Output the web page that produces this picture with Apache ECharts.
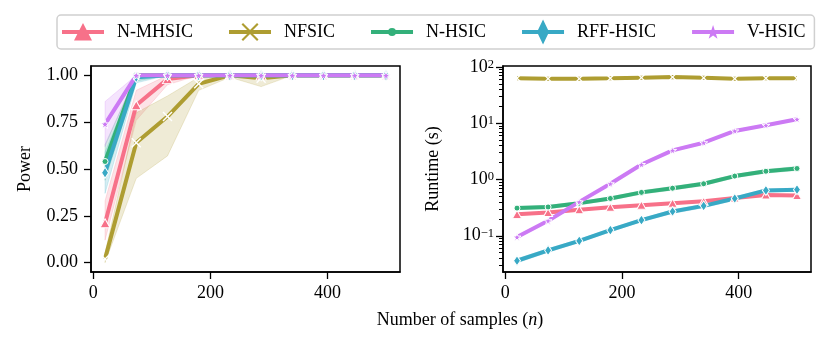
<!DOCTYPE html>
<html><head><meta charset="utf-8">
<script src="https://cdn.jsdelivr.net/npm/echarts@6/dist/echarts.min.js"></script>
<style>html,body{margin:0;padding:0;background:#fff}#c{width:830px;height:345px}</style>
</head><body><div id="c"></div>
<script>
// ---------- data ----------
const methods = ['N-MHSIC', 'NFSIC', 'N-HSIC', 'RFF-HSIC', 'V-HSIC'];
const colors = ['#f77189', '#ae9d31', '#33b07a', '#38a9c5', '#cc7af4'];
const nSamples = [20, 73.3, 126.7, 180, 233.3, 286.7, 340, 393.3, 446.7, 500];

const xTicks = [0, 200, 400];
const powerTicks = [0, 0.25, 0.5, 0.75, 1.0];
const runtimeDecades = [-1, 0, 1, 2];

// Power (left panel)
const powerNMHSIC = [0.21, 0.84, 0.98, 1, 1, 1, 1, 1, 1, 1];
const powerNFSIC  = [0.02, 0.64, 0.78, 0.955, 1, 0.985, 1, 1, 1, 1];
const powerNHSIC  = [0.54, 1, 1, 1, 1, 1, 1, 1, 1, 1];
const powerRFF    = [0.48, 0.99, 1, 1, 1, 1, 1, 1, 1, 1];
const powerVHSIC  = [0.74, 1, 1, 1, 1, 1, 1, 1, 1, 1];
// Power confidence bands
const powerLoNMHSIC = [0.12, 0.76, 0.95, 1, 1, 1, 1, 1, 1, 1];
const powerHiNMHSIC = [0.33, 0.92, 1, 1, 1, 1, 1, 1, 1, 1];
const powerLoNFSIC  = [0.0, 0.45, 0.57, 0.92, 0.99, 0.94, 1, 1, 1, 1];
const powerHiNFSIC  = [0.05, 0.80, 0.89, 0.99, 1, 1, 1, 1, 1, 1];
const powerLoNHSIC  = [0.44, 0.97, 1, 1, 1, 1, 1, 1, 1, 1];
const powerHiNHSIC  = [0.63, 1, 1, 1, 1, 1, 1, 1, 1, 1];
const powerLoRFF    = [0.37, 0.96, 1, 1, 1, 1, 1, 1, 1, 1];
const powerHiRFF    = [0.59, 1, 1, 1, 1, 1, 1, 1, 1, 1];
const powerLoVHSIC  = [0.62, 1, 1, 1, 1, 1, 1, 1, 1, 1];
const powerHiVHSIC  = [0.86, 1, 1, 1, 1, 1, 1, 1, 1, 1];

// Runtime in seconds (right panel)
const timeNMHSIC = [0.24, 0.26, 0.29, 0.32, 0.35, 0.38, 0.41, 0.47, 0.53, 0.52];
const timeNFSIC  = [63, 62, 62, 63, 64.5, 66, 64, 62, 63, 63];
const timeNHSIC  = [0.31, 0.325, 0.38, 0.46, 0.59, 0.70, 0.84, 1.15, 1.40, 1.57];
const timeRFF    = [0.036, 0.055, 0.081, 0.126, 0.19, 0.27, 0.34, 0.46, 0.64, 0.66];
const timeVHSIC  = [0.095, 0.185, 0.40, 0.84, 1.85, 3.3, 4.5, 7.3, 9.2, 11.8];
// Runtime confidence bands
const timeLoNMHSIC = [0.23, 0.25, 0.28, 0.31, 0.34, 0.37, 0.40, 0.45, 0.51, 0.50];
const timeHiNMHSIC = [0.25, 0.27, 0.30, 0.33, 0.36, 0.39, 0.42, 0.49, 0.55, 0.54];
const timeLoNFSIC  = [61, 60, 60, 61, 62.5, 64, 62, 60, 61, 61];
const timeHiNFSIC  = [65, 64, 64, 65, 66.5, 68, 66, 64, 65, 65];
const timeLoNHSIC  = [0.29, 0.305, 0.355, 0.43, 0.55, 0.65, 0.78, 1.07, 1.30, 1.45];
const timeHiNHSIC  = [0.33, 0.345, 0.405, 0.49, 0.63, 0.75, 0.90, 1.23, 1.50, 1.70];
const timeLoRFF    = [0.033, 0.051, 0.076, 0.118, 0.178, 0.25, 0.315, 0.43, 0.60, 0.62];
const timeHiRFF    = [0.039, 0.059, 0.086, 0.134, 0.202, 0.29, 0.365, 0.49, 0.68, 0.70];
const timeLoVHSIC  = [0.09, 0.175, 0.38, 0.80, 1.76, 3.15, 4.3, 7.0, 8.8, 11.3];
const timeHiVHSIC  = [0.10, 0.195, 0.42, 0.88, 1.94, 3.45, 4.7, 7.6, 9.6, 12.3];

const powerSets = [
  [powerNMHSIC, powerLoNMHSIC, powerHiNMHSIC],
  [powerNFSIC, powerLoNFSIC, powerHiNFSIC],
  [powerNHSIC, powerLoNHSIC, powerHiNHSIC],
  [powerRFF, powerLoRFF, powerHiRFF],
  [powerVHSIC, powerLoVHSIC, powerHiVHSIC]
];
const timeSets = [
  [timeNMHSIC, timeLoNMHSIC, timeHiNMHSIC],
  [timeNFSIC, timeLoNFSIC, timeHiNFSIC],
  [timeNHSIC, timeLoNHSIC, timeHiNHSIC],
  [timeRFF, timeLoRFF, timeHiRFF],
  [timeVHSIC, timeLoVHSIC, timeHiVHSIC]
];

// ---------- styling ----------
const F = "'Liberation Serif', 'Times New Roman', serif";
const xPath = 'path://M0,1 L1,0 L5,4 L9,0 L10,1 L6,5 L10,9 L9,10 L5,6 L1,10 L0,9 L4,5 Z';
const starPath = 'path://M50,0 L61,35 L98,35 L68,57 L79,91 L50,70 L21,91 L32,57 L2,35 L39,35 Z';
const symbols = ['triangle', xPath, 'circle', 'diamond', starPath];
const symSizesL = [[10, 9], 10, 6, [7, 11], 9];
const symSizesR = [[9, 8], 9, 6, [7, 10], 8];

// legend icons (line + marker), all with common bbox 0..42 x 0..26
const corner = 'M0,0 L0.1,0 L0,0.1 Z M42,26 L41.9,26 L42,25.9 Z ';
const bar = 'M0,11 L42,11 L42,15 L0,15 Z ';
const legendIcons = [
  'path://' + corner + bar + 'M21,4 L30,21.5 L12,21.5 Z',
  'path://' + corner + bar + 'M12.5,5.5 L14,4 L21,11 L28,4 L29.5,5.5 L22.5,12.5 L22.5,13.5 L29.5,20.5 L28,22 L21,15 L14,22 L12.5,20.5 L19.5,13.5 L19.5,12.5 Z',
  'path://' + corner + bar + 'M17,13 A4,4 0 1 1 25,13 A4,4 0 1 1 17,13 Z',
  'path://' + corner + bar + 'M21,0.5 L27,13 L21,25.5 L15,13 Z',
  'path://' + corner + bar + 'M21,6 L22.7,11.2 L28.2,11.2 L23.8,14.5 L25.4,19.7 L21,16.5 L16.6,19.7 L18.2,14.5 L13.8,11.2 L19.3,11.2 Z'
];

function rgba(hex, a) {
  const r = parseInt(hex.slice(1, 3), 16), g = parseInt(hex.slice(3, 5), 16), b = parseInt(hex.slice(5, 7), 16);
  return 'rgba(' + r + ',' + g + ',' + b + ',' + a + ')';
}

function bandSeries(xi, yi, lo, hi, color, alpha) {
  return {
    type: 'custom', xAxisIndex: xi, yAxisIndex: yi, silent: true, clip: true, z: 1,
    data: [[nSamples[0], hi[0]]],
    renderItem: function (params, api) {
      const pts = [];
      for (let i = 0; i < nSamples.length; i++) pts.push(api.coord([nSamples[i], hi[i]]));
      for (let i = nSamples.length - 1; i >= 0; i--) pts.push(api.coord([nSamples[i], lo[i]]));
      return { type: 'polygon', shape: { points: pts },
        style: { fill: rgba(color, alpha), stroke: rgba(color, alpha), lineWidth: 1 } };
    }
  };
}

function lineSeries(name, k, xi, yi, values, sizes) {
  const c = colors[k];
  const isX = k === 1;
  return {
    name: name, type: 'line', xAxisIndex: xi, yAxisIndex: yi, z: 3,
    data: nSamples.map((x, i) => [x, values[i]]),
    symbol: symbols[k], symbolSize: sizes[k], showSymbol: true, showAllSymbol: true,
    lineStyle: { color: c, width: 4 },
    itemStyle: isX ? { color: '#ffffff', borderWidth: 0 } : { color: c, borderColor: '#ffffff', borderWidth: 1 },
    emphasis: { disabled: true }, silent: true, clip: true
  };
}

const series = [];
// bands first (behind lines)
for (let k = 0; k < 5; k++) series.push(bandSeries(0, 0, powerSets[k][1], powerSets[k][2], colors[k], 0.2));
for (let k = 0; k < 5; k++) series.push(bandSeries(1, 1, timeSets[k][1], timeSets[k][2], colors[k], 0.2));
for (let k = 0; k < 5; k++) series.push(lineSeries(methods[k], k, 0, 0, powerSets[k][0], symSizesL));
// runtime lines use the log axis (yAxisIndex 1)
for (let k = 0; k < 5; k++) series.push(lineSeries(methods[k], k, 1, 1, timeSets[k][0], symSizesR));

const tMin = 0.0227, tMax = 104;
const minorTicks = [];
for (let e = -2; e <= 1; e++) for (let m = 2; m <= 9; m++) {
  const v = m * Math.pow(10, e);
  if (v > tMin && v < tMax) minorTicks.push(Math.log10(v));
}

const tickStyle = { color: '#000', width: 1.3 };
const labelBase = { fontFamily: F, fontSize: 18, color: '#000' };

function xAxisDef(g) {
  return {
    gridIndex: g, type: 'value', min: -4, max: 524,
    axisLine: { show: true, onZero: false, lineStyle: { color: '#000', width: 1.5 } },
    splitLine: { show: false },
    axisTick: { show: true, length: 7, lineStyle: tickStyle, customValues: xTicks },
    axisLabel: Object.assign({ customValues: xTicks, margin: 12 }, labelBase)
  };
}

const option = {
  animation: false,
  backgroundColor: '#ffffff',
  grid: [
    { left: 91, top: 66, width: 309, height: 206, show: true, borderColor: '#000', borderWidth: 1.5, backgroundColor: 'transparent' },
    { left: 503, top: 66, width: 308, height: 206, show: true, borderColor: '#000', borderWidth: 1.5, backgroundColor: 'transparent' }
  ],
  xAxis: [xAxisDef(0), xAxisDef(1)],
  yAxis: [
    {
      gridIndex: 0, type: 'value', min: -0.05, max: 1.05,
      name: 'Power', nameLocation: 'middle', nameGap: 57,
      nameTextStyle: { fontFamily: F, fontSize: 18, color: '#000' },
      axisLine: { show: true, onZero: false, lineStyle: { color: '#000', width: 1.5 } },
      splitLine: { show: false },
      axisTick: { show: true, length: 7, lineStyle: tickStyle, customValues: powerTicks },
      axisLabel: Object.assign({ customValues: powerTicks, margin: 13, formatter: v => v.toFixed(2) }, labelBase)
    },
    {
      gridIndex: 1, type: 'log', logBase: 10, min: tMin, max: tMax, show: false,
      axisLine: { onZero: false },
      splitLine: { show: false }
    },
    {
      gridIndex: 1, type: 'value', position: 'left',
      min: Math.log10(tMin), max: Math.log10(tMax),
      name: 'Runtime (s)', nameLocation: 'middle', nameGap: 61,
      nameTextStyle: { fontFamily: F, fontSize: 18, color: '#000' },
      axisLine: { show: true, onZero: false, lineStyle: { color: '#000', width: 1.5 } },
      splitLine: { show: false },
      axisTick: { show: true, length: 7, lineStyle: tickStyle, customValues: runtimeDecades },
      axisLabel: {
        customValues: runtimeDecades, margin: 9,
        formatter: v => { const e = Math.round(v); return '{b|10}{s|' + (e < 0 ? '\u2212' + (-e) : e) + '}'; },
        rich: {
          b: { fontFamily: F, fontSize: 18, color: '#000', lineHeight: 18, verticalAlign: 'bottom', padding: [3, 0, 0, 0] },
          s: { fontFamily: F, fontSize: 12.5, color: '#000', lineHeight: 13, verticalAlign: 'top' }
        }
      }
    },
    {
      gridIndex: 1, type: 'value', position: 'left',
      min: Math.log10(tMin), max: Math.log10(tMax),
      axisLine: { show: false, onZero: false }, splitLine: { show: false },
      axisTick: { show: true, length: 4, lineStyle: { color: '#000', width: 1 }, customValues: minorTicks },
      axisLabel: { show: false }
    }
  ],
  legend: {
    left: 57, top: 15, orient: 'horizontal',
    padding: [4, 9, 4, 5],
    itemWidth: 42, itemHeight: 26, itemGap: 36,
    borderColor: '#d0d0d0', borderWidth: 1.5, borderRadius: 4,
    selectedMode: false,
    textStyle: { fontFamily: F, fontSize: 18, color: '#000', padding: [0, 0, 0, 8] },
    itemStyle: { borderWidth: 0 },
    data: methods.map((m, k) => ({ name: m, icon: legendIcons[k], itemStyle: { color: colors[k], borderWidth: 0 } }))
  },
  graphic: [{
    type: 'text', x: 460, y: 320,
    style: {
      text: '{a|Number of samples (}{i|n}{a|)}',
      align: 'center', verticalAlign: 'middle',
      rich: {
        a: { fontFamily: F, fontSize: 18, fill: '#000' },
        i: { fontFamily: F, fontSize: 18, fontStyle: 'italic', fill: '#000' }
      }
    }
  }],
  series: series
};

const chart = echarts.init(document.getElementById('c'), null, { renderer: 'canvas' });
chart.setOption(option);
</script>
</body></html>
